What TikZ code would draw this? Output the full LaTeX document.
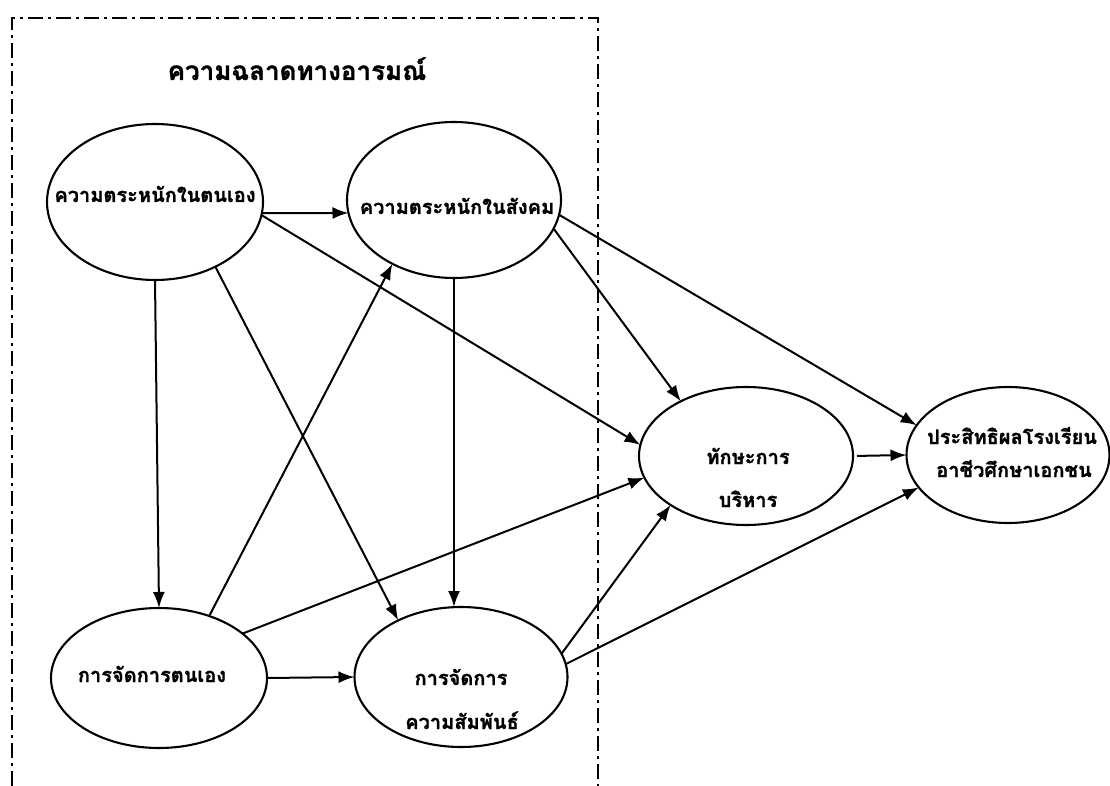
\documentclass[tikz,border=0pt]{standalone}
\usepackage{fontspec}
\newfontfamily\thaifont[Script=Thai,BoldFeatures={FakeBold=1.2}]{Loma}
\usetikzlibrary{shapes.geometric,arrows.meta}
\tikzset{
  ell/.style={draw, ellipse, line width=2.1pt, inner sep=0pt, outer sep=0pt},
  arr/.style={draw, line width=2pt, -{Latex[length=16pt,width=12pt]}},
  lbl/.style={font=\thaifont\bfseries\fontsize{20}{24}\selectfont, inner sep=0pt, anchor=base},
  ttl/.style={font=\thaifont\bfseries\fontsize{26}{30}\selectfont, inner sep=0pt, anchor=base},
  frame/.style={line width=2.4pt, dash pattern=on 15pt off 5pt on 3pt off 5pt}
}
\begin{document}
\begin{tikzpicture}[x=1pt,y=-1pt]
\useasboundingbox (0,0) rectangle (1110,786);
% frame
\draw[frame] (12,786) -- (12,18) -- (598,18) -- (598,786);
\node[ttl] (title) at (297,80) {ความฉลาดทางอารมณ์};
% ellipses
\node[ell, minimum width=216pt, minimum height=156pt] (sa)  at (155,202) {};
\node[ell, minimum width=214pt, minimum height=156pt] (soc) at (454,200) {};
\node[ell, minimum width=216pt, minimum height=140pt] (sm)  at (159,678) {};
\node[ell, minimum width=213pt, minimum height=140pt] (rm)  at (461,677) {};
\node[ell, minimum width=214pt, minimum height=138pt] (mg)  at (746,456) {};
\node[ell, minimum width=203pt, minimum height=136pt] (ef)  at (1008,455) {};
% labels
\node[lbl] (sa-t)  at (155,202) {ความตระหนักในตนเอง};
\node[lbl] (soc-t) at (457,214) {ความตระหนักในสังคม};
\node[lbl] (sm-t)  at (152,682) {การจัดการตนเอง};
\node[lbl] (rm-t1) at (461,685) {การจัดการ};
\node[lbl] (rm-t2) at (462,729) {ความสัมพันธ์};
\node[lbl] (mg-t1) at (748,464) {ทักษะการ};
\node[lbl] (mg-t2) at (748,507) {บริหาร};
\node[lbl] (ef-t1) at (1012,444) {ประสิทธิผลโรงเรียน};
\node[lbl] (ef-t2) at (1014,477) {อาชีวศึกษาเอกชน};
% connectors
\draw[arr] (sa.-6) -- (soc.-173);
\draw[arr] (sa.-7) -- (mg.174);
\draw[arr] (sa.south) -- (sm.north);
\draw[arr] (sa.-47) -- (rm.138);
\draw[arr] (sm.51) -- (soc.-134);
\draw[arr] (sm.28) -- (mg.192);
\draw[arr] (sm.east) -- (rm.west);
\draw[arr] (soc.south) -- (soc.south |- rm.north);
\draw[arr] (soc.-16) -- (mg.140);
\draw[arr] (soc.-8) -- (ef.162);
\draw[arr] (rm.13) -- (mg.213);
\draw[arr] (rm.7) -- (ef.200);
\draw[arr, shorten <=4pt] (mg.east) -- (ef.west);
\end{tikzpicture}
\end{document}
